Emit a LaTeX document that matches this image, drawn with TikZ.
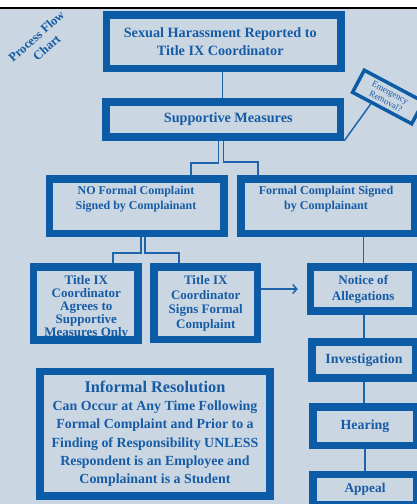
\documentclass[tikz,border=0pt]{standalone}
\usepackage{fontspec}
\setmainfont{Liberation Serif}
\usetikzlibrary{calc,backgrounds,arrows.meta}
\definecolor{bgc}{RGB}{203,214,227}
\definecolor{bblue}{RGB}{11,91,166}
\definecolor{tblue}{RGB}{22,92,165}
\definecolor{lblue}{RGB}{30,100,172}
\newcommand{\fsz}[2]{\fontsize{#1}{#2}\selectfont\bfseries}
\tikzset{
  bx/.style={draw=bblue, line width=7.5pt, inner sep=0pt, align=center, text=tblue},
  txt/.style={text=tblue, align=center, inner sep=0pt},
  conn/.style={draw=lblue, line width=1.5pt},
}
\begin{document}
\begin{tikzpicture}[x=1pt,y=-1pt]
\useasboundingbox (0,0) rectangle (417,504);

% title
\node[txt, rotate=42, font=\fsz{12.6}{15.5}] (pfc) at (41.5,42) {Process Flow\\Chart};

% text nodes drawn beneath borders
\node[txt, font=\fsz{12}{15.5}] (noT) at (136,199) {NO Formal Complaint\\Signed by Complainant};
\node[txt, font=\fsz{12.1}{15.5}] (fcT) at (326,199) {Formal Complaint Signed\\by Complainant};
\node[txt, font=\fsz{13}{13}] (agrT) at (86.3,307.6) {Title IX\\Coordinator\\Agrees to\\Supportive\\Measures Only};

% boxes
\node[bx, minimum width=234.5pt, minimum height=53.5pt, font=\fsz{14.2}{17.5}] (sh) at (223.75,41.75) {Sexual Harassment Reported to\kern7pt\\Title IX Coordinator\kern7pt};
\node[bx, minimum width=234.5pt, minimum height=35pt, font=\fsz{14.2}{17.5}] (sm) at (223.25,119.5) {\hspace*{10pt}Supportive Measures};
\node[bx, line width=3.5pt, minimum width=67pt, minimum height=25pt, rotate=-28, font=\fontsize{8.8}{9.5}\selectfont] (em) at (388,97) {Emergency\\Removal?};
\node[bx, minimum width=174.5pt, minimum height=54.5pt] (no) at (136.75,206.25) {};
\node[bx, minimum width=173.5pt, minimum height=54.5pt] (fc) at (327.75,206.25) {};
\node[bx, minimum width=104.5pt, minimum height=73pt] (agr) at (85.75,303.5) {};
\node[bx, minimum width=103.5pt, minimum height=72.5pt, font=\fsz{13}{14.7}] (sig) at (205.75,303.25) {Title IX\\Coordinator\\Signs Formal\\Complaint};
\node[bx, minimum width=105.5pt, minimum height=44pt, font=\fsz{13.1}{16}] (notice) at (363.25,289) {Notice of\\Allegations};
\node[bx, minimum width=104pt, minimum height=36pt, font=\fsz{13.9}{16}] (inv) at (364,360) {Investigation};
\node[bx, minimum width=104pt, minimum height=38.5pt, font=\fsz{13.9}{16}] (hear) at (365,426.25) {Hearing};
\node[bx, minimum width=104pt, minimum height=30pt, font=\fsz{13.4}{16}] (appeal) at (365,489.5) {Appeal};
\node[bx, minimum width=230pt, minimum height=124.5pt, font=\fsz{13.9}{18.3}] (inf) at (155,433.75)
  {{\fontsize{16.3}{18.3}\selectfont Informal Resolution}\\Can Occur at Any Time Following\\Formal Complaint and Prior to a\\Finding of Responsibility UNLESS\\Respondent is an Employee and\\Complainant is a Student};

\begin{pgfonlayer}{background}
  \fill[white] (0,0) rectangle (417,7.3);
  \fill[black] (0,7.3) rectangle (417,9.3);
  \fill[bgc] (0,9.3) rectangle (417,504);
  \draw[conn] ([xshift=-1.5pt]sh.south) -- ([xshift=-1.5pt]sh.south |- sm.north);
  \draw[conn] ([xshift=-5pt]sm.south) -- ++(0,22) -| ([xshift=54pt]no.north);
  \draw[conn] (sm.south) -- ++(0,21) -| ([xshift=-70pt]fc.north);
  \draw[conn] (sm.south east) -- ($(em.south west)!0.33!(em.south east)$);
  \draw[conn] ([xshift=4pt]no.south) -- ++(0,15.5) -| ([xshift=27pt]agr.north);
  \draw[conn] ([xshift=8pt]no.south) -- ++(0,15.5) -| ([xshift=-27pt]sig.north);
  \draw[conn] (fc.south -| notice.north) -- (notice.north);
  \draw[conn, -{Straight Barb[length=4pt,width=9pt]}] (notice.west -| sig.east) -- ([xshift=-9pt]notice.west);
  \draw[conn] (notice.south -| inv.north) -- (inv.north);
  \draw[conn] (inv.south) -- (inv.south |- hear.north);
  \draw[conn] (hear.south) -- (hear.south |- appeal.north);
\end{pgfonlayer}
\end{tikzpicture}
\end{document}
